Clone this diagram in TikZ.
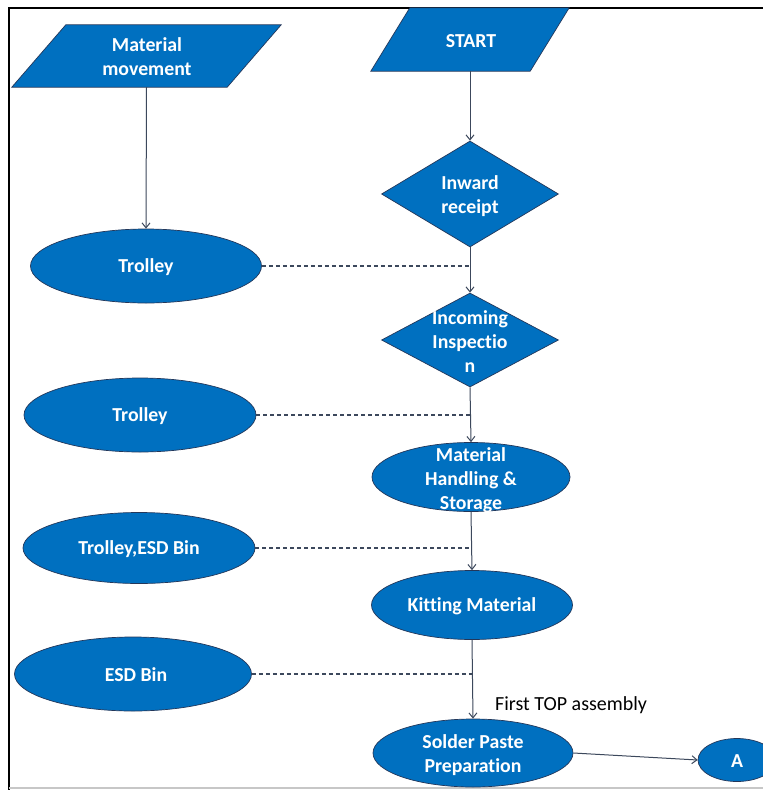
\documentclass[tikz,border=0pt]{standalone}
\usepackage{fontspec}
\setmainfont{Carlito}[Ligatures=NoCommon]
\usetikzlibrary{shapes.geometric,arrows.meta}
\definecolor{boxblue}{RGB}{0,112,192}
\definecolor{edgeblue}{RGB}{35,55,90}
\definecolor{linegray}{RGB}{60,72,92}
\begin{document}
\begin{tikzpicture}[x=1pt,y=-1pt,
 shp/.style={fill=boxblue,draw=edgeblue,line width=0.7pt,inner sep=0pt},
 oval/.style={shp,ellipse},
 dia/.style={shp,diamond},
 frame/.style={draw=none,inner sep=0pt},
 txt/.style={text=white,font=\bfseries\fontsize{19.8}{24}\selectfont,align=center,inner sep=0pt},
 note/.style={text=black,font=\fontsize{20}{24}\selectfont,inner sep=0pt},
 flow/.style={draw=linegray,line width=1pt,-{Straight Barb[length=5pt,width=8pt]}},
 tie/.style={draw=linegray,line width=1.1pt,dash pattern=on 4pt off 3pt}
]
\useasboundingbox (0,0) rectangle (763,790);
\fill[white] (0,0) rectangle (763,790);
% outer frame
\draw[line width=2pt] (9,790) -- (9,8) -- (763,8);
\draw[black!22,line width=2pt] (9,788) -- (763,788);

% parallelograms
\node[frame,minimum width=269pt,minimum height=62pt] (mm) at (146.5,56) {};
\filldraw[fill=boxblue,draw=edgeblue,line width=0.7pt] ([xshift=54pt]mm.north west) -- (mm.north east) -- ([xshift=-54pt]mm.south east) -- (mm.south west) -- cycle;
\node[txt] (mmt) at (147,57) {Material\\movement};

\node[frame,minimum width=198pt,minimum height=63pt] (st) at (470,39.5) {};
\filldraw[fill=boxblue,draw=edgeblue,line width=0.7pt] ([xshift=39pt]st.north west) -- (st.north east) -- ([xshift=-39pt]st.south east) -- (st.south west) -- cycle;
\node[txt] (stt) at (471,41) {START};

% main column
\node[dia,minimum width=177pt,minimum height=106pt] (ii) at (470,194) {};
\node[txt] (iit) at (470,196) {Inward\\receipt};
\node[dia,minimum width=177pt,minimum height=94pt] (ic) at (470,340) {};
\node[txt] (ict) at (470,342) {Incoming\\Inspectio\\n};
\node[oval,minimum width=198pt,minimum height=69pt] (mh) at (471,477) {};
\node[txt] (mht) at (471,480) {Material\\Handling \&\\Storage};
\node[oval,minimum width=201pt,minimum height=69pt] (km) at (472,605) {};
\node[txt] (kmt) at (472,606) {Kitting Material};
\node[oval,minimum width=200pt,minimum height=68pt] (sp) at (473,753) {};
\node[txt] (spt) at (473,755) {Solder Paste\\Preparation};
\node[oval,minimum width=78pt,minimum height=43pt] (A) at (737,760) {};
\node[txt] (At) at (737,761) {A};
\node[note,anchor=west] (fta) at (495,705) {First TOP assembly};

% left column
\node[oval,minimum width=231pt,minimum height=74pt] (t1) at (146,266) {};
\node[txt] (t1t) at (146,267) {Trolley};
\node[oval,minimum width=232pt,minimum height=74pt] (t2) at (140,415) {};
\node[txt] (t2t) at (140,416) {Trolley};
\node[oval,minimum width=232pt,minimum height=71pt] (t3) at (139,548) {};
\node[txt] (t3t) at (139,549) {Trolley,ESD Bin};
\node[oval,minimum width=237pt,minimum height=74pt] (esd) at (133,674) {};
\node[txt] (esdt) at (136,675) {ESD Bin};

% connectors
\draw[flow] (mm.south) -- (t1.north);
\draw[flow] (st.south) -- (ii.north);
\draw[flow] (ii.south) -- (ic.north);
\draw[flow] (ic.south) -- (mh.north);
\draw[flow] (mh.south) -- (km.north);
\draw[flow] (km.south) -- (sp.north);
\draw[flow] (sp.east) -- (A.west);

\draw[tie] (t1.east) -- (t1.east -| ii.south);
\draw[tie] (t2.east) -- (t2.east -| ic.south);
\draw[tie] (t3.east) -- (t3.east -| mh.south);
\draw[tie] (esd.east) -- (esd.east -| km.south);
\end{tikzpicture}
\end{document}
